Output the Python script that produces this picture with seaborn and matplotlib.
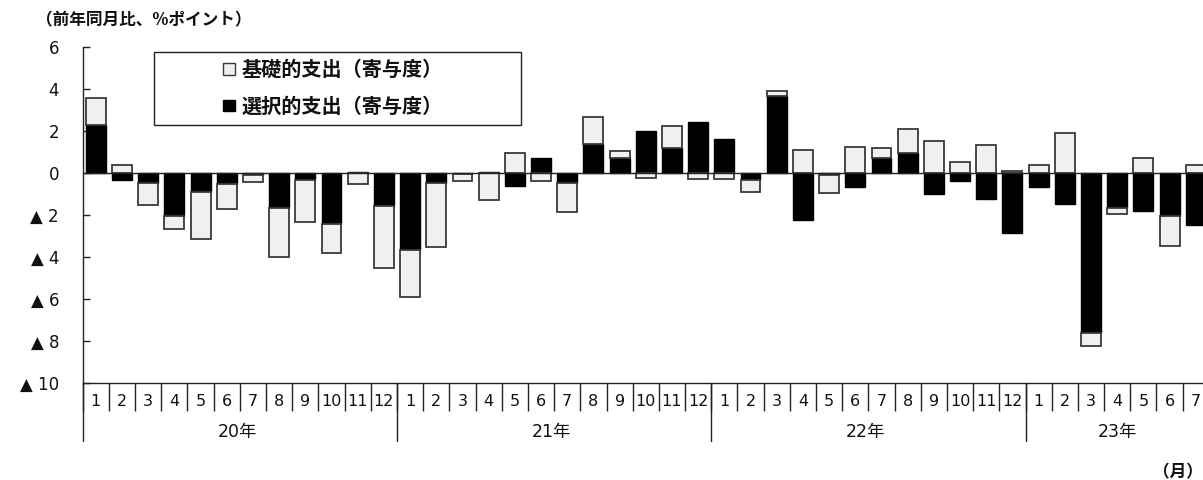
import numpy as np
import pandas as pd
import matplotlib
matplotlib.use("Agg")
import matplotlib.pyplot as plt
import matplotlib.transforms as mtransforms
from matplotlib.patches import Patch, Rectangle
import seaborn as sns

# ---- data (contribution, %pt, y/y) ----
years = ["20年", "21年", "22年", "23年"]
months = ([str(m) for m in range(1, 13)] * 3) + [str(m) for m in range(1, 8)]
period = [f"{2020 + i // 12}-{i % 12 + 1:02d}" for i in range(43)]

selective = [2.25, -0.35, -0.50, -2.04, -0.92, -0.53, -0.10, -1.67, -0.34, -2.42, 0.05, -1.59,
             -3.69, -0.51, -0.07, 0.05, -0.61, 0.70, -0.51, 1.38, 0.70, 1.99, 1.19, 2.40,
             1.62, -0.35, 3.63, -2.23, -0.13, -0.69, 0.70, 0.95, -1.02, -0.38, -1.23, -2.85,
             -0.69, -1.48, -7.61, -1.69, -1.80, -2.07, -2.48]
basic = [1.33, 0.38, -1.06, -0.63, -2.25, -1.22, -0.36, -2.34, -2.00, -1.40, -0.53, -2.95,
         -2.21, -3.02, -0.33, -1.29, 0.92, -0.38, -1.35, 1.26, 0.33, -0.27, 1.04, -0.30,
         -0.30, -0.56, 0.24, 1.08, -0.86, 1.22, 0.49, 1.12, 1.53, 0.51, 1.30, 0.08,
         0.38, 1.88, -0.62, -0.30, 0.70, -1.40, 0.38]
series_names = ["基礎的支出（寄与度）", "選択的支出（寄与度）"]
yticks = [6, 4, 2, 0, -2, -4, -6, -8, -10]

sel = np.array(selective)
bas = np.array(basic)
bottom_basic = np.where(np.sign(bas) == np.sign(sel), sel, 0.0)
df = pd.DataFrame({"period": period, "selective": sel, "basic": bas, "bottom": bottom_basic})

sns.set_theme(style="white")
plt.rcParams["font.family"] = ["DejaVu Sans", "Noto Sans CJK JP"]
CJK = ["Noto Sans CJK JP", "DejaVu Sans"]

W, H = 1203, 480
fig = plt.figure(figsize=(W / 100, H / 100), dpi=100)
ax_left, ax_right = 82.7, 82.7 + 43 * 26.19
ax_top, ax_bot = 46.7, 382.7
ax = fig.add_axes([ax_left / W, 1 - ax_bot / H, (ax_right - ax_left) / W, (ax_bot - ax_top) / H])

LIGHT = "#f0f0f0"
EDGE = "#3a3a3a"
bw = 0.76
sns.barplot(data=df, x="period", y="selective", color="black", saturation=1,
            width=bw, edgecolor="black", linewidth=1.0, ax=ax, errorbar=None)
sns.barplot(data=df, x="period", y="basic", bottom=df["bottom"].to_numpy(), color=LIGHT,
            saturation=1, width=bw, edgecolor=EDGE, linewidth=1.3, ax=ax, errorbar=None)

ax.set_xlim(-0.5, 42.5)
ax.set_ylim(-10, 6)
ax.set_xlabel("")
ax.set_ylabel("")
ax.axhline(0, color="#222222", linewidth=1.0, zorder=3)

for s in ["top", "right"]:
    ax.spines[s].set_visible(False)
for s in ["left", "bottom"]:
    ax.spines[s].set_color("#222222")
    ax.spines[s].set_linewidth(1.0)

ax.set_yticks(yticks)
ax.set_yticklabels([str(v) if v >= 0 else f"▲ {abs(v)}" for v in yticks])
ax.tick_params(axis="y", direction="in", length=5, width=1.0, color="#222222",
               pad=17, labelsize=12, labelcolor="#111111", left=True)

# x axis: month labels at centres, ticks at boundaries
ax.set_xticks(np.arange(43))
ax.set_xticklabels([])
ax.tick_params(axis="x", which="major", length=0, bottom=False)
ax.set_xticks(np.arange(-0.5, 43, 1), minor=True)
ax.tick_params(axis="x", which="minor", direction="out", length=20, width=1.0,
               color="#222222", bottom=True)

trans = mtransforms.blended_transform_factory(ax.transData, ax.transAxes)
ph = ax_bot - ax_top
for i, m in enumerate(months):
    ax.text(i, -19 / ph, m, transform=trans, ha="center", va="center", fontsize=11.5,
            color="#111111", clip_on=False)
year_centres = [5.4, 17.4, 29.4, 39.0]
for k, y in enumerate(years):
    start = k * 12 - 0.5
    ax.plot([start, start], [0, -58 / ph], transform=trans, color="#222222",
            linewidth=1.0, clip_on=False)
    ax.text(year_centres[k], -49 / ph, y, transform=trans,
            ha="center", va="center", fontsize=12.5, color="#111111", clip_on=False)

# legend (frame drawn as a rectangle in figure pixels)
fig.patches.append(Rectangle((154 / W, 1 - 125 / H), (520.7 - 154) / W, (125 - 51.7) / H,
                             transform=fig.transFigure, facecolor="white",
                             edgecolor="#222222", linewidth=1.0, zorder=5))
handles = [Patch(facecolor=LIGHT, edgecolor=EDGE, linewidth=1.0),
           Patch(facecolor="black", edgecolor="black", linewidth=1.0)]
leg = fig.legend(handles, series_names, loc="upper left",
                 bbox_to_anchor=(223 / W, 1 - 59 / H), frameon=False,
                 prop={"family": CJK, "size": 14.5, "weight": "bold"},
                 handlelength=0.6, handleheight=0.5,
                 handletextpad=0.3, labelspacing=0.78, borderpad=0, borderaxespad=0)
for t in leg.get_texts():
    t.set_color("#111111")
leg.set_zorder(6)

fig.text(36 / W, 1 - 20 / H, "（前年同月比、%ポイント）", ha="left", va="center",
         fontsize=12, family=CJK, weight="bold", color="#111111")
fig.text(1203 / W, 1 - 472 / H, "（月）", ha="right", va="center", fontsize=12,
         family=CJK, weight="bold", color="#111111")

fig.savefig("out.png", dpi=100)
